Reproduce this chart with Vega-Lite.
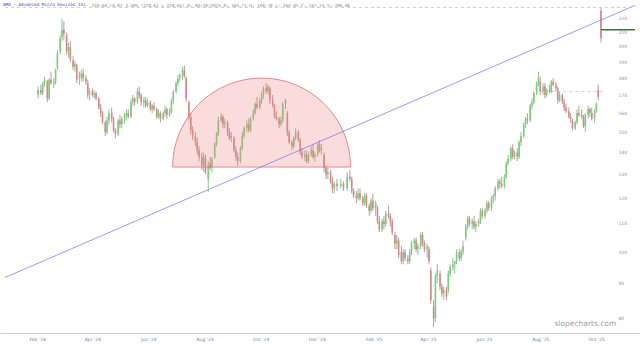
{
"$schema":"https://vega.github.io/schema/vega-lite/v6.json",
"width":640,"height":333,
"autosize":{"type":"none"},
"padding":{"left":0,"right":0,"top":0,"bottom":11},
"background":"white",
"config":{"view":{"stroke":null},"axis":{"grid":false}},
"title":{"text":"AMD - Advanced Micro Devices Inc.","anchor":"start","frame":"group","offset":-7,"fontSize":4.3,"font":"DejaVu Sans Mono","fontWeight":"normal","color":"#4040c0","dx":3},
"datasets":{
"candles":[
{"d":"2024-02-02","o":170,"h":175,"l":168,"c":173},
{"d":"2024-02-05","o":173,"h":176,"l":170,"c":171},
{"d":"2024-02-07","o":171,"h":178,"l":170,"c":177},
{"d":"2024-02-09","o":177,"h":181,"l":175,"c":179},
{"d":"2024-02-12","o":178,"h":179,"l":166,"c":168},
{"d":"2024-02-14","o":168,"h":180,"l":167,"c":179},
{"d":"2024-02-16","o":179,"h":184,"l":176,"c":177},
{"d":"2024-02-19","o":177,"h":180,"l":174,"c":178},
{"d":"2024-02-21","o":178,"h":186,"l":176,"c":185},
{"d":"2024-02-23","o":186,"h":198,"l":185,"c":196},
{"d":"2024-02-26","o":197,"h":208,"l":195,"c":206},
{"d":"2024-02-28","o":207,"h":220,"l":204,"c":212},
{"d":"2024-03-01","o":212,"h":218,"l":205,"c":209},
{"d":"2024-03-04","o":208,"h":210,"l":195,"c":197},
{"d":"2024-03-06","o":198,"h":203,"l":193,"c":200},
{"d":"2024-03-08","o":200,"h":204,"l":190,"c":192},
{"d":"2024-03-11","o":191,"h":194,"l":185,"c":187},
{"d":"2024-03-13","o":187,"h":191,"l":184,"c":189},
{"d":"2024-03-15","o":188,"h":189,"l":177,"c":179},
{"d":"2024-03-18","o":180,"h":184,"l":176,"c":182},
{"d":"2024-03-20","o":181,"h":185,"l":178,"c":183},
{"d":"2024-03-22","o":183,"h":186,"l":178,"c":180},
{"d":"2024-03-25","o":180,"h":182,"l":176,"c":178},
{"d":"2024-03-27","o":177,"h":179,"l":168,"c":170},
{"d":"2024-03-29","o":171,"h":174,"l":167,"c":172},
{"d":"2024-04-01","o":172,"h":174,"l":169,"c":170},
{"d":"2024-04-03","o":170,"h":173,"l":168,"c":171},
{"d":"2024-04-05","o":171,"h":172,"l":167,"c":168},
{"d":"2024-04-08","o":168,"h":169,"l":162,"c":163},
{"d":"2024-04-10","o":163,"h":165,"l":158,"c":160},
{"d":"2024-04-12","o":160,"h":161,"l":154,"c":155},
{"d":"2024-04-15","o":155,"h":156,"l":148,"c":150},
{"d":"2024-04-17","o":150,"h":158,"l":149,"c":156},
{"d":"2024-04-19","o":156,"h":162,"l":154,"c":160},
{"d":"2024-04-22","o":160,"h":163,"l":155,"c":157},
{"d":"2024-04-24","o":157,"h":158,"l":150,"c":151},
{"d":"2024-04-26","o":151,"h":152,"l":147,"c":149},
{"d":"2024-04-29","o":149,"h":157,"l":148,"c":156},
{"d":"2024-05-01","o":156,"h":159,"l":152,"c":154},
{"d":"2024-05-03","o":154,"h":158,"l":152,"c":157},
{"d":"2024-05-06","o":157,"h":160,"l":154,"c":159},
{"d":"2024-05-08","o":159,"h":162,"l":156,"c":160},
{"d":"2024-05-10","o":160,"h":162,"l":157,"c":158},
{"d":"2024-05-13","o":158,"h":168,"l":157,"c":166},
{"d":"2024-05-15","o":166,"h":170,"l":164,"c":168},
{"d":"2024-05-17","o":168,"h":169,"l":164,"c":166},
{"d":"2024-05-20","o":166,"h":174,"l":165,"c":172},
{"d":"2024-05-22","o":172,"h":175,"l":168,"c":170},
{"d":"2024-05-24","o":170,"h":171,"l":164,"c":166},
{"d":"2024-05-27","o":166,"h":169,"l":163,"c":167},
{"d":"2024-05-29","o":167,"h":169,"l":163,"c":164},
{"d":"2024-05-31","o":164,"h":168,"l":163,"c":166},
{"d":"2024-06-03","o":166,"h":167,"l":161,"c":162},
{"d":"2024-06-05","o":162,"h":165,"l":160,"c":164},
{"d":"2024-06-07","o":164,"h":166,"l":161,"c":162},
{"d":"2024-06-10","o":162,"h":163,"l":157,"c":158},
{"d":"2024-06-12","o":158,"h":162,"l":157,"c":160},
{"d":"2024-06-14","o":160,"h":161,"l":155,"c":157},
{"d":"2024-06-17","o":157,"h":161,"l":156,"c":160},
{"d":"2024-06-19","o":160,"h":164,"l":158,"c":162},
{"d":"2024-06-21","o":162,"h":163,"l":157,"c":159},
{"d":"2024-06-24","o":159,"h":163,"l":158,"c":161},
{"d":"2024-06-26","o":161,"h":168,"l":160,"c":167},
{"d":"2024-06-28","o":167,"h":173,"l":165,"c":172},
{"d":"2024-07-01","o":172,"h":178,"l":171,"c":177},
{"d":"2024-07-03","o":177,"h":182,"l":175,"c":180},
{"d":"2024-07-05","o":180,"h":183,"l":178,"c":182},
{"d":"2024-07-08","o":182,"h":187,"l":179,"c":185},
{"d":"2024-07-10","o":185,"h":188,"l":180,"c":181},
{"d":"2024-07-12","o":180,"h":181,"l":166,"c":168},
{"d":"2024-07-15","o":166,"h":167,"l":156,"c":158},
{"d":"2024-07-17","o":158,"h":160,"l":149,"c":151},
{"d":"2024-07-19","o":151,"h":153,"l":146,"c":148},
{"d":"2024-07-22","o":148,"h":150,"l":143,"c":145},
{"d":"2024-07-24","o":145,"h":147,"l":139,"c":141},
{"d":"2024-07-26","o":141,"h":143,"l":136,"c":138},
{"d":"2024-07-29","o":138,"h":140,"l":132,"c":134},
{"d":"2024-07-31","o":134,"h":140,"l":131,"c":138},
{"d":"2024-08-02","o":137,"h":139,"l":130,"c":131},
{"d":"2024-08-05","o":128,"h":136,"l":122.5,"c":134},
{"d":"2024-08-07","o":135,"h":138,"l":132,"c":133},
{"d":"2024-08-09","o":133,"h":138,"l":131,"c":137},
{"d":"2024-08-12","o":138,"h":145,"l":137,"c":144},
{"d":"2024-08-14","o":144,"h":150,"l":143,"c":149},
{"d":"2024-08-16","o":149,"h":158,"l":148,"c":156},
{"d":"2024-08-19","o":156,"h":160,"l":155,"c":158},
{"d":"2024-08-21","o":158,"h":159,"l":152,"c":154},
{"d":"2024-08-23","o":154,"h":157,"l":152,"c":155},
{"d":"2024-08-26","o":155,"h":156,"l":148,"c":150},
{"d":"2024-08-28","o":150,"h":152,"l":146,"c":147},
{"d":"2024-08-30","o":147,"h":150,"l":145,"c":148},
{"d":"2024-09-02","o":147,"h":148,"l":140,"c":141},
{"d":"2024-09-04","o":141,"h":143,"l":136,"c":138},
{"d":"2024-09-06","o":138,"h":140,"l":134,"c":136},
{"d":"2024-09-09","o":136,"h":143,"l":135,"c":142},
{"d":"2024-09-11","o":142,"h":150,"l":141,"c":148},
{"d":"2024-09-13","o":148,"h":153,"l":147,"c":152},
{"d":"2024-09-16","o":152,"h":156,"l":150,"c":154},
{"d":"2024-09-18","o":154,"h":157,"l":150,"c":151},
{"d":"2024-09-20","o":151,"h":158,"l":150,"c":157},
{"d":"2024-09-23","o":157,"h":162,"l":156,"c":160},
{"d":"2024-09-25","o":160,"h":166,"l":159,"c":165},
{"d":"2024-09-27","o":165,"h":169,"l":162,"c":163},
{"d":"2024-09-30","o":163,"h":168,"l":162,"c":167},
{"d":"2024-10-02","o":167,"h":172,"l":165,"c":170},
{"d":"2024-10-04","o":170,"h":175,"l":168,"c":174},
{"d":"2024-10-07","o":174,"h":177,"l":171,"c":172},
{"d":"2024-10-09","o":172,"h":176,"l":170,"c":175},
{"d":"2024-10-11","o":174,"h":175,"l":165,"c":167},
{"d":"2024-10-14","o":167,"h":170,"l":163,"c":164},
{"d":"2024-10-16","o":164,"h":165,"l":157,"c":158},
{"d":"2024-10-18","o":158,"h":161,"l":156,"c":157},
{"d":"2024-10-21","o":157,"h":158,"l":152,"c":154},
{"d":"2024-10-23","o":154,"h":158,"l":153,"c":156},
{"d":"2024-10-25","o":156,"h":166,"l":155,"c":165},
{"d":"2024-10-28","o":165,"h":168,"l":162,"c":167},
{"d":"2024-10-30","o":160,"h":161,"l":148,"c":150},
{"d":"2024-11-01","o":150,"h":151,"l":144,"c":145},
{"d":"2024-11-04","o":145,"h":146,"l":141,"c":143},
{"d":"2024-11-06","o":143,"h":148,"l":142,"c":147},
{"d":"2024-11-08","o":147,"h":152,"l":146,"c":150},
{"d":"2024-11-11","o":150,"h":151,"l":145,"c":146},
{"d":"2024-11-13","o":146,"h":147,"l":139,"c":140},
{"d":"2024-11-15","o":140,"h":142,"l":137,"c":138},
{"d":"2024-11-18","o":138,"h":141,"l":136,"c":139},
{"d":"2024-11-20","o":139,"h":141,"l":135,"c":136},
{"d":"2024-11-22","o":136,"h":140,"l":135,"c":139},
{"d":"2024-11-25","o":139,"h":143,"l":138,"c":141},
{"d":"2024-11-27","o":141,"h":144,"l":137,"c":138},
{"d":"2024-11-29","o":138,"h":140,"l":136,"c":139},
{"d":"2024-12-02","o":139,"h":145,"l":138,"c":144},
{"d":"2024-12-04","o":144,"h":146,"l":140,"c":141},
{"d":"2024-12-06","o":141,"h":144,"l":139,"c":142},
{"d":"2024-12-09","o":139,"h":140,"l":131,"c":133},
{"d":"2024-12-11","o":133,"h":134,"l":128,"c":130},
{"d":"2024-12-13","o":130,"h":133,"l":128,"c":131},
{"d":"2024-12-16","o":131,"h":132,"l":126,"c":127},
{"d":"2024-12-18","o":127,"h":129,"l":122,"c":124},
{"d":"2024-12-20","o":124,"h":127,"l":122,"c":126},
{"d":"2024-12-23","o":126,"h":128,"l":123,"c":125},
{"d":"2024-12-27","o":125,"h":128,"l":124,"c":126},
{"d":"2024-12-30","o":126,"h":127,"l":123,"c":124},
{"d":"2025-01-03","o":124,"h":131,"l":123,"c":129},
{"d":"2025-01-06","o":129,"h":132,"l":127,"c":128},
{"d":"2025-01-08","o":128,"h":129,"l":122,"c":123},
{"d":"2025-01-10","o":123,"h":124,"l":120,"c":121},
{"d":"2025-01-13","o":121,"h":123,"l":118,"c":120},
{"d":"2025-01-15","o":120,"h":124,"l":119,"c":122},
{"d":"2025-01-17","o":122,"h":124,"l":119,"c":120},
{"d":"2025-01-20","o":120,"h":121,"l":117,"c":118},
{"d":"2025-01-22","o":118,"h":122,"l":117,"c":121},
{"d":"2025-01-24","o":121,"h":122,"l":116,"c":117},
{"d":"2025-01-27","o":117,"h":118,"l":113,"c":115},
{"d":"2025-01-29","o":115,"h":120,"l":114,"c":119},
{"d":"2025-01-31","o":119,"h":122,"l":115,"c":116},
{"d":"2025-02-03","o":116,"h":119,"l":113,"c":118},
{"d":"2025-02-05","o":116,"h":117,"l":110,"c":111},
{"d":"2025-02-07","o":111,"h":113,"l":107,"c":108},
{"d":"2025-02-10","o":108,"h":112,"l":107,"c":111},
{"d":"2025-02-12","o":111,"h":113,"l":108,"c":110},
{"d":"2025-02-14","o":110,"h":115,"l":109,"c":114},
{"d":"2025-02-17","o":114,"h":117,"l":112,"c":113},
{"d":"2025-02-19","o":113,"h":114,"l":109,"c":111},
{"d":"2025-02-21","o":111,"h":112,"l":106,"c":107},
{"d":"2025-02-24","o":106,"h":107,"l":101,"c":103},
{"d":"2025-02-26","o":103,"h":106,"l":101,"c":104},
{"d":"2025-02-28","o":104,"h":105,"l":98,"c":99},
{"d":"2025-03-03","o":100,"h":102,"l":96,"c":97},
{"d":"2025-03-05","o":97,"h":101,"l":96,"c":100},
{"d":"2025-03-07","o":100,"h":101,"l":97,"c":98},
{"d":"2025-03-10","o":98,"h":99,"l":96,"c":97},
{"d":"2025-03-12","o":97,"h":101,"l":96,"c":100},
{"d":"2025-03-14","o":100,"h":104,"l":99,"c":103},
{"d":"2025-03-17","o":103,"h":105,"l":101,"c":104},
{"d":"2025-03-19","o":104,"h":105,"l":100,"c":101},
{"d":"2025-03-21","o":101,"h":103,"l":99,"c":102},
{"d":"2025-03-24","o":102,"h":107,"l":101,"c":106},
{"d":"2025-03-26","o":106,"h":107,"l":102,"c":103},
{"d":"2025-03-28","o":103,"h":104,"l":100,"c":101},
{"d":"2025-03-31","o":101,"h":103,"l":98,"c":102},
{"d":"2025-04-02","o":101,"h":102,"l":96,"c":97},
{"d":"2025-04-04","o":94,"h":95,"l":84,"c":85},
{"d":"2025-04-07","o":83,"h":85,"l":77.6,"c":80},
{"d":"2025-04-09","o":80,"h":93,"l":79,"c":92},
{"d":"2025-04-11","o":92,"h":96,"l":90,"c":94},
{"d":"2025-04-14","o":93,"h":94,"l":88,"c":89},
{"d":"2025-04-16","o":89,"h":90,"l":86,"c":87},
{"d":"2025-04-18","o":87,"h":89,"l":85,"c":88},
{"d":"2025-04-21","o":88,"h":89,"l":85,"c":86},
{"d":"2025-04-23","o":88,"h":94,"l":87,"c":93},
{"d":"2025-04-25","o":93,"h":96,"l":92,"c":95},
{"d":"2025-04-28","o":95,"h":98,"l":94,"c":96},
{"d":"2025-04-30","o":96,"h":97,"l":93,"c":97},
{"d":"2025-05-02","o":97,"h":101,"l":96,"c":100},
{"d":"2025-05-05","o":100,"h":101,"l":97,"c":98},
{"d":"2025-05-07","o":98,"h":101,"l":97,"c":100},
{"d":"2025-05-09","o":100,"h":104,"l":99,"c":102},
{"d":"2025-05-12","o":105,"h":110,"l":104,"c":109},
{"d":"2025-05-14","o":109,"h":113,"l":108,"c":112},
{"d":"2025-05-16","o":112,"h":113,"l":109,"c":110},
{"d":"2025-05-19","o":110,"h":112,"l":108,"c":111},
{"d":"2025-05-21","o":111,"h":113,"l":108,"c":109},
{"d":"2025-05-23","o":109,"h":111,"l":107,"c":110},
{"d":"2025-05-26","o":110,"h":112,"l":109,"c":111},
{"d":"2025-05-28","o":111,"h":116,"l":110,"c":115},
{"d":"2025-05-30","o":115,"h":116,"l":112,"c":113},
{"d":"2025-06-02","o":113,"h":116,"l":112,"c":115},
{"d":"2025-06-04","o":115,"h":119,"l":114,"c":118},
{"d":"2025-06-06","o":118,"h":119,"l":115,"c":116},
{"d":"2025-06-09","o":116,"h":121,"l":115,"c":120},
{"d":"2025-06-11","o":120,"h":122,"l":118,"c":121},
{"d":"2025-06-13","o":121,"h":125,"l":119,"c":124},
{"d":"2025-06-16","o":124,"h":128,"l":123,"c":127},
{"d":"2025-06-18","o":127,"h":128,"l":124,"c":126},
{"d":"2025-06-20","o":126,"h":129,"l":124,"c":125},
{"d":"2025-06-23","o":125,"h":130,"l":124,"c":129},
{"d":"2025-06-25","o":129,"h":136,"l":128,"c":135},
{"d":"2025-06-27","o":135,"h":139,"l":134,"c":137},
{"d":"2025-06-30","o":137,"h":143,"l":136,"c":142},
{"d":"2025-07-02","o":142,"h":144,"l":137,"c":138},
{"d":"2025-07-04","o":138,"h":141,"l":137,"c":140},
{"d":"2025-07-07","o":140,"h":142,"l":136,"c":138},
{"d":"2025-07-09","o":138,"h":146,"l":137,"c":145},
{"d":"2025-07-11","o":145,"h":150,"l":143,"c":148},
{"d":"2025-07-14","o":148,"h":155,"l":147,"c":154},
{"d":"2025-07-16","o":154,"h":158,"l":152,"c":157},
{"d":"2025-07-18","o":157,"h":160,"l":154,"c":156},
{"d":"2025-07-21","o":156,"h":165,"l":155,"c":164},
{"d":"2025-07-23","o":164,"h":168,"l":162,"c":166},
{"d":"2025-07-25","o":166,"h":172,"l":165,"c":171},
{"d":"2025-07-28","o":171,"h":178,"l":170,"c":177},
{"d":"2025-07-30","o":177,"h":184,"l":175,"c":180},
{"d":"2025-08-01","o":178,"h":181,"l":170,"c":172},
{"d":"2025-08-04","o":172,"h":177,"l":170,"c":175},
{"d":"2025-08-06","o":175,"h":177,"l":168,"c":170},
{"d":"2025-08-08","o":170,"h":174,"l":169,"c":173},
{"d":"2025-08-11","o":173,"h":176,"l":171,"c":172},
{"d":"2025-08-13","o":172,"h":179,"l":171,"c":178},
{"d":"2025-08-15","o":178,"h":180,"l":175,"c":176},
{"d":"2025-08-18","o":176,"h":178,"l":172,"c":174},
{"d":"2025-08-20","o":174,"h":175,"l":165,"c":167},
{"d":"2025-08-22","o":167,"h":172,"l":166,"c":170},
{"d":"2025-08-25","o":170,"h":171,"l":165,"c":166},
{"d":"2025-08-27","o":166,"h":168,"l":161,"c":163},
{"d":"2025-08-29","o":163,"h":165,"l":160,"c":161},
{"d":"2025-09-01","o":161,"h":163,"l":157,"c":158},
{"d":"2025-09-03","o":158,"h":160,"l":155,"c":157},
{"d":"2025-09-05","o":156,"h":157,"l":151,"c":152},
{"d":"2025-09-08","o":152,"h":156,"l":151,"c":155},
{"d":"2025-09-10","o":155,"h":162,"l":154,"c":160},
{"d":"2025-09-12","o":160,"h":164,"l":158,"c":159},
{"d":"2025-09-15","o":159,"h":162,"l":157,"c":158},
{"d":"2025-09-17","o":158,"h":159,"l":152,"c":153},
{"d":"2025-09-19","o":153,"h":160,"l":150,"c":159},
{"d":"2025-09-22","o":159,"h":164,"l":157,"c":162},
{"d":"2025-09-24","o":162,"h":163,"l":158,"c":160},
{"d":"2025-09-26","o":160,"h":163,"l":156,"c":157},
{"d":"2025-09-29","o":157,"h":162,"l":155,"c":161},
{"d":"2025-10-01","o":161,"h":166,"l":160,"c":165},
{"d":"2025-10-03","o":173,"h":176,"l":167,"c":169},
{"d":"2025-10-06","o":226,"h":228.5,"l":203,"c":206}
],
"dome":[{"d":"2024-10-02","p":133.3}],
"trend":[{"d":"2023-12-28","p":91.8},{"d":"2025-11-12","p":230.2}],
"top":[{"d":"2023-12-28","d2":"2025-11-12","p":228.6}],
"level":[{"d":"2025-07-31","d2":"2025-10-07","p":172}],
"last":[{"d":"2025-10-06","d2":"2025-11-12","p":212}]
},
"encoding":{
"x":{"field":"d","type":"temporal",
 "scale":{"type":"utc","domain":[{"year":2023,"month":12,"date":28,"utc":true},{"year":2025,"month":11,"date":12,"utc":true}]},
 "axis":{"values":[
  {"year":2024,"month":2,"date":1,"utc":true},{"year":2024,"month":4,"date":1,"utc":true},{"year":2024,"month":6,"date":1,"utc":true},
  {"year":2024,"month":8,"date":1,"utc":true},{"year":2024,"month":10,"date":1,"utc":true},{"year":2024,"month":12,"date":1,"utc":true},
  {"year":2025,"month":2,"date":1,"utc":true},{"year":2025,"month":4,"date":1,"utc":true},{"year":2025,"month":6,"date":1,"utc":true},
  {"year":2025,"month":8,"date":1,"utc":true},{"year":2025,"month":10,"date":1,"utc":true}],
  "format":"%b '%y","labelFontSize":4.5,"labelColor":"#6f7fa8","labelFont":"DejaVu Sans","labelFlush":false,
  "domainColor":"#cfcfcf","domainWidth":1,"ticks":false,"grid":false,"labelPadding":3,
  "title":"220.66 +6.91 3.40% (220.61 x 220.65) D: 04/10/2024 O: 164.71 H: 169.78 L: 164.05 C: 167.14 V: 206.06",
  "titleX":91,"titleY":-327,"titleAlign":"left","titleAnchor":"start","titleBaseline":"alphabetic",
  "titleFontSize":4.3,"titleFont":"DejaVu Sans Mono","titleFontWeight":"normal","titleColor":"#8a8a8a"}}
},
"layer":[
{"data":{"name":"candles"},
 "mark":{"type":"rule","strokeWidth":0.6},
 "encoding":{
  "y":{"field":"l","type":"quantitative",
   "scale":{"type":"log","domain":[76.1,234.4],"nice":false,"zero":false},
   "axis":{"orient":"right","offset":-28,"values":[80,90,100,110,120,130,140,150,160,170,180,190,200,210,220],
    "format":"d","labelFontSize":4.5,"labelColor":"#8a8f9f","labelFont":"DejaVu Sans","domain":false,"ticks":false,"grid":false,
    "labelPadding":6,"labelAlign":"left",
    "title":"slopecharts.com","titleAngle":0,"titleX":-58,"titleY":325,"titleAlign":"left","titleBaseline":"alphabetic",
    "titleFontSize":7.5,"titleFont":"DejaVu Sans","titleFontWeight":"normal","titleColor":"#a0a0a0"}},
  "y2":{"field":"h"},
  "color":{"condition":{"test":"datum.c >= datum.o","value":"#4f8f4f"},"value":"#8f5555"}}},
{"data":{"name":"candles"},
 "mark":{"type":"bar","size":1.6},
 "encoding":{
  "y":{"field":"o","type":"quantitative"},
  "y2":{"field":"c"},
  "color":{"condition":{"test":"datum.c >= datum.o","value":"#7ccc7c"},"value":"#d08a8a"}}},
{"data":{"name":"dome"},
 "mark":{"type":"arc","theta":-1.5708,"theta2":1.5708,"radius":89,"fill":"#f08080","fillOpacity":0.28,"stroke":"#e07070","strokeWidth":0.8},
 "encoding":{"y":{"field":"p","type":"quantitative"}}},
{"data":{"name":"trend"},
 "mark":{"type":"line","color":"#7070f0","strokeWidth":0.7},
 "encoding":{"y":{"field":"p","type":"quantitative"}}},
{"data":{"name":"top"},
 "mark":{"type":"rule","color":"#e8b0b0","strokeWidth":0.8,"strokeDash":[3,3]},
 "encoding":{"y":{"field":"p","type":"quantitative"},"x2":{"field":"d2"}}},
{"data":{"name":"level"},
 "mark":{"type":"rule","color":"#a8d890","strokeWidth":0.8,"strokeDash":[3,3]},
 "encoding":{"y":{"field":"p","type":"quantitative"},"x2":{"field":"d2"}}},
{"data":{"name":"last"},
 "mark":{"type":"rule","color":"#2e7d32","strokeWidth":1.3},
 "encoding":{"y":{"field":"p","type":"quantitative"},"x2":{"field":"d2"}}}
]
}
